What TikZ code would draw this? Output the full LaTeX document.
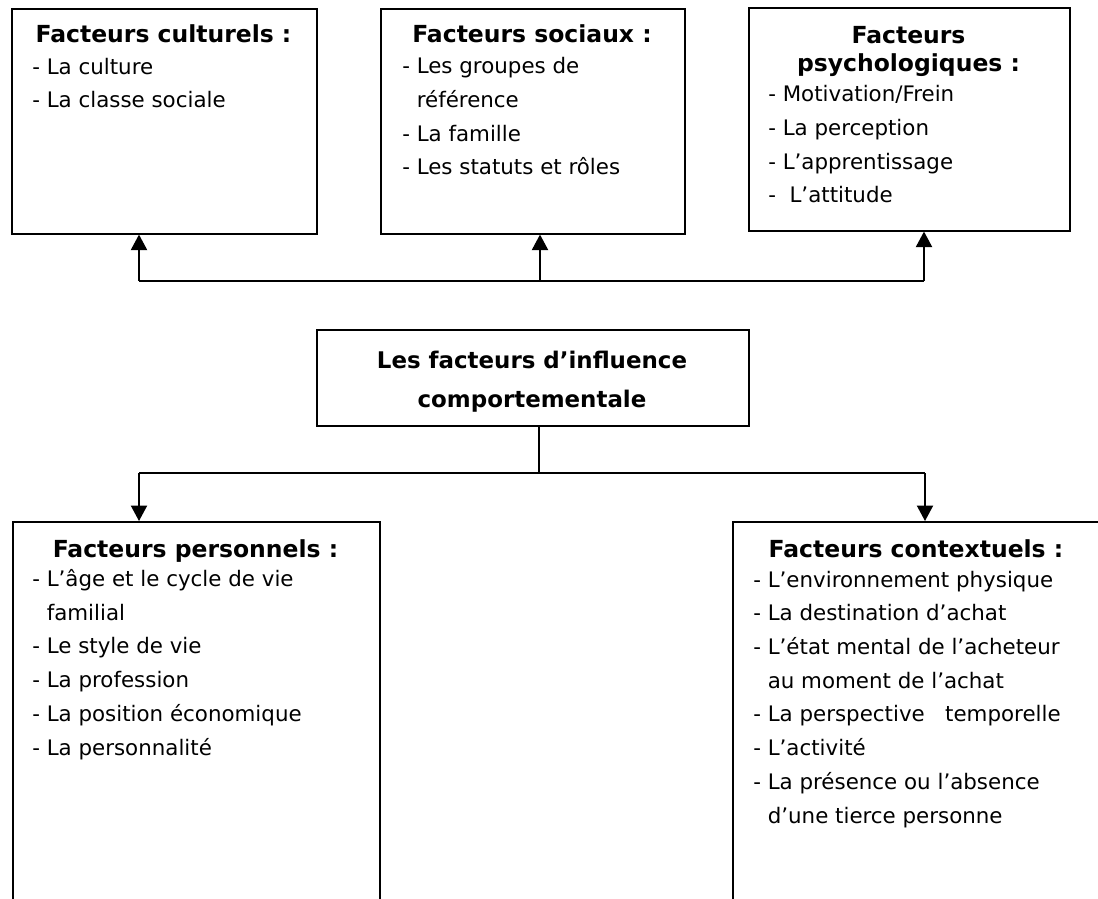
\documentclass[tikz,border=0pt]{standalone}
\usepackage{fontspec}
\setmainfont{DejaVu Sans}
\usepackage{tikz}
\usetikzlibrary{arrows.meta,positioning}

\begin{document}
\begin{tikzpicture}[x=0.025cm,y=-0.025cm,
    cadre/.style={draw,line width=1.1pt,anchor=north west,inner sep=0pt},
    titre/.style={anchor=base,inner sep=0pt,align=center,font=\fontsize{16.7}{20.6}\selectfont\bfseries},
    liste/.style={anchor=base west,inner sep=0pt,align=left,font=\fontsize{15.2}{23.96}\selectfont},
    fleche/.style={line width=1.1pt,-{Triangle[length=11pt,width=11.5pt]}},
    lien/.style={line width=1.1pt}]
  \useasboundingbox (0,0) rectangle (1098,899);
  \clip (0,0) rectangle (1098,899);
  \fill[white] (0,0) rectangle (1098,899);

  % base = last line of each text
  \node[cadre,minimum width=7.625cm,minimum height=5.625cm] (cult) at (11,8) {};
  \node[titre] (cultT) at (163.5,43) {Facteurs culturels :};
  \node[liste] (cultL) at (32,108) {- La culture\\- La classe sociale};

  \node[cadre,minimum width=7.6cm,minimum height=5.625cm] (soc) at (380,8) {};
  \node[titre] (socT) at (532,43) {Facteurs sociaux :};
  \node[liste] (socL) at (402,175) {- Les groupes de\\\hphantom{- }référence\\- La famille\\- Les statuts et rôles};

  \node[cadre,minimum width=8.025cm,minimum height=5.575cm] (psy) at (748,7) {};
  \node[titre] (psyT) at (908.5,72) {Facteurs\\psychologiques :};
  \node[liste] (psyL) at (768,203) {- Motivation/Frein\\- La perception\\- L’apprentissage\\-~~L’attitude};

  \node[cadre,minimum width=10.8cm,minimum height=2.4cm] (centre) at (316,329) {};
  \node[titre,font=\fontsize{16.3}{27.7}\selectfont\bfseries] (centreT) at (532,407) {Les facteurs d’influence\\comportementale};

  \node[cadre,minimum width=9.175cm,minimum height=10.5cm] (pers) at (12,521) {};
  \node[titre] (persT) at (195.5,557) {Facteurs personnels :};
  \node[liste] (persL) at (32,755) {- L’âge et le cycle de vie\\\hphantom{- }familial\\- Le style de vie\\- La profession\\- La position économique\\- La personnalité};

  \node[cadre,minimum width=10cm,minimum height=10.5cm] (ctx) at (732,521) {};
  \node[titre] (ctxT) at (916,557) {Facteurs contextuels :};
  \node[liste] (ctxL) at (753,823) {- L’environnement physique\\- La destination d’achat\\- L’état mental de l’acheteur\\\hphantom{- }au moment de l’achat\\- La perspective~~~temporelle\\- L’activité\\- La présence ou l’absence\\\hphantom{- }d’une tierce personne};

  \coordinate (h1) at (139,281);
  \coordinate (h2) at (540,281);
  \coordinate (h3) at (924,281);
  \draw[lien] (h1) -- (h3);
  \draw[fleche] (h1) -- (h1 |- cult.south);
  \draw[fleche] (h2) -- (h2 |- soc.south);
  \draw[fleche] (h3) -- (h3 |- psy.south);

  \coordinate (b0) at (539,473);
  \coordinate (b1) at (139,473);
  \coordinate (b2) at (925,473);
  \draw[lien] (b0 |- centre.south) -- (b0);
  \draw[lien] (b1) -- (b2);
  \draw[fleche] (b1) -- (b1 |- pers.north);
  \draw[fleche] (b2) -- (b2 |- ctx.north);
\end{tikzpicture}
\end{document}
